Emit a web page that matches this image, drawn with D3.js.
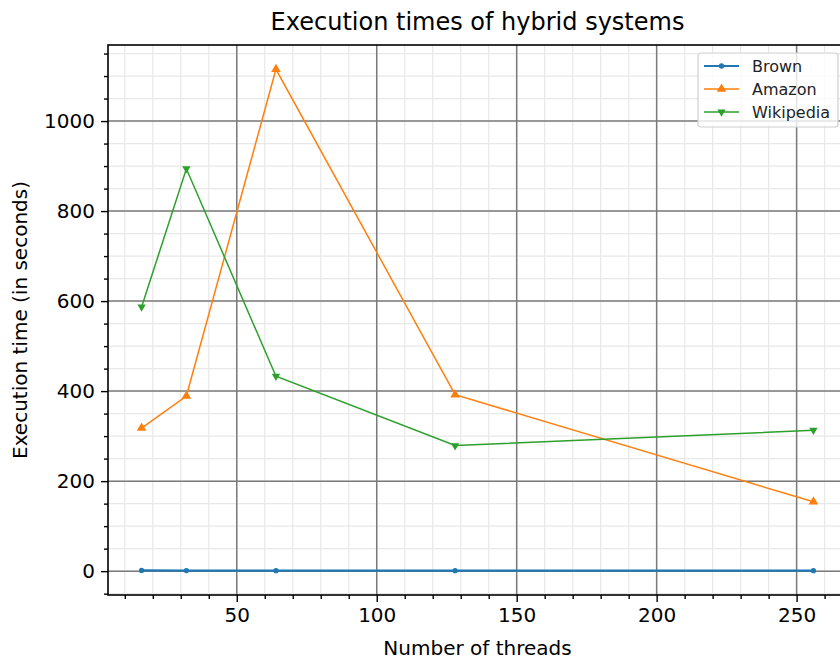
<!DOCTYPE html>
<html>
<head>
<meta charset="utf-8">
<script src="https://cdn.jsdelivr.net/npm/d3@7"></script>
<style>
  body { margin: 0; background: #fff; }
  svg { display: block; font-family: "DejaVu Sans", sans-serif; }
</style>
</head>
<body>
<svg id="chart" width="840" height="660"></svg>
<script>
// data
const threads = [16, 32, 64, 128, 256];
const brown = [1.5, 1.2, 1.0, 1.0, 1.1];
const amazon = [318, 389, 1115, 392, 154];
const wikipedia = [587, 894, 433, 279, 313];
const seriesNames = ["Brown", "Amazon", "Wikipedia"];
const xTicks = [50, 100, 150, 200, 250];
const yTicks = [0, 200, 400, 600, 800, 1000];

const colors = ["#1f77b4", "#ff7f0e", "#2ca02c"];
const series = [brown, amazon, wikipedia];

const margin = { left: 108, top: 45, right: 847, bottom: 595 };
const svg = d3.select("#chart");

const x = d3.scaleLinear().domain([4, 268]).range([margin.left, margin.right]);
const y = d3.scaleLinear().domain([-53, 1169]).range([margin.bottom, margin.top]);

// minor grid first
const xMinor = d3.range(10, 268, 10);
const yMinor = d3.range(-50, 1169, 50);

const grid = svg.append("g");
grid.selectAll(".xminor").data(xMinor).enter().append("line")
    .attr("x1", d => x(d)).attr("x2", d => x(d))
    .attr("y1", margin.top).attr("y2", margin.bottom)
    .attr("stroke", "#e8e8e8").style("stroke-width", 1.2);
grid.selectAll(".yminor").data(yMinor).enter().append("line")
    .attr("x1", margin.left).attr("x2", margin.right)
    .attr("y1", d => y(d)).attr("y2", d => y(d))
    .attr("stroke", "#e8e8e8").style("stroke-width", 1.2);

// major grid
grid.selectAll(".xmajor").data(xTicks).enter().append("line")
    .attr("x1", d => x(d)).attr("x2", d => x(d))
    .attr("y1", margin.top).attr("y2", margin.bottom)
    .attr("stroke", "#7a7a7a").style("stroke-width", 1.5);
grid.selectAll(".ymajor").data(yTicks).enter().append("line")
    .attr("x1", margin.left).attr("x2", margin.right)
    .attr("y1", d => y(d)).attr("y2", d => y(d))
    .attr("stroke", "#7a7a7a").style("stroke-width", 1.5);

// lines and markers
const line = d3.line().x((d, i) => x(threads[i])).y(d => y(d));
const symbols = [
    d3.symbol().type(d3.symbolCircle).size(22),
    d3.symbol().type(d3.symbolTriangle).size(40),
    d3.symbol().type(d3.symbolTriangle).size(30)
];

series.forEach((vals, k) => {
    svg.append("path")
        .attr("d", line(vals))
        .attr("fill", "none")
        .attr("stroke", colors[k])
        .style("stroke-width", k === 0 ? 2.2 : 1.5);

    svg.selectAll(".m" + k).data(vals).enter().append("path")
        .attr("d", symbols[k])
        .attr("transform", (d, i) =>
            "translate(" + x(threads[i]) + "," + y(d) + ")" + (k === 2 ? " rotate(180)" : ""))
        .attr("fill", colors[k]);
});

// spines
svg.append("rect")
    .attr("x", margin.left).attr("y", margin.top)
    .attr("width", margin.right - margin.left)
    .attr("height", margin.bottom - margin.top)
    .attr("fill", "none").attr("stroke", "#000").style("stroke-width", 1.6);

// axes
const xAxis = svg.append("g").attr("transform", "translate(0," + margin.bottom + ")");
xAxis.call(d3.axisBottom(x).tickValues(xMinor.filter(d => d % 50 !== 0)).tickSize(4).tickFormat(""));
xAxis.append("g").call(d3.axisBottom(x).tickValues(xTicks).tickSize(7).tickPadding(6).tickFormat(d3.format("d")));

const yAxis = svg.append("g").attr("transform", "translate(" + margin.left + ",0)");
yAxis.call(d3.axisLeft(y).tickValues(yMinor.filter(d => d % 200 !== 0)).tickSize(4).tickFormat(""));
yAxis.append("g").call(d3.axisLeft(y).tickValues(yTicks).tickSize(7).tickPadding(6).tickFormat(d3.format("d")));

svg.selectAll(".domain").remove();
svg.selectAll(".tick line").attr("stroke", "#000").style("stroke-width", 1.4);
svg.selectAll(".tick text")
    .style("font-family", "DejaVu Sans, sans-serif")
    .style("font-size", "20px")
    .attr("fill", "#000");

// title and labels
svg.append("text")
    .attr("x", (margin.left + margin.right) / 2).attr("y", 30)
    .attr("text-anchor", "middle")
    .style("font-size", "24px")
    .text("Execution times of hybrid systems");

svg.append("text")
    .attr("x", (margin.left + margin.right) / 2).attr("y", 655)
    .attr("text-anchor", "middle")
    .style("font-size", "20px")
    .text("Number of threads");

svg.append("text")
    .attr("transform", "translate(27," + (margin.top + margin.bottom) / 2 + ") rotate(-90)")
    .attr("text-anchor", "middle")
    .style("font-size", "20px")
    .text("Execution time (in seconds)");

// legend
const legend = svg.append("g").attr("transform", "translate(698,53)");
legend.append("rect")
    .attr("width", 140).attr("height", 74).attr("rx", 3)
    .attr("fill", "#fff").attr("fill-opacity", 0.8)
    .attr("stroke", "#d0d0d0").style("stroke-width", 1.2);

seriesNames.forEach((name, k) => {
    const ly = 13 + k * 23;
    legend.append("line")
        .attr("x1", 6).attr("x2", 41).attr("y1", ly).attr("y2", ly)
        .attr("stroke", colors[k]).style("stroke-width", k === 0 ? 2.2 : 1.5);
    legend.append("path")
        .attr("d", symbols[k])
        .attr("transform", "translate(23.5," + ly + ")" + (k === 2 ? " rotate(180)" : ""))
        .attr("fill", colors[k]);
    legend.append("text")
        .attr("x", 54).attr("y", ly + 6)
        .style("font-size", "16px")
        .attr("fill", "#222")
        .text(name);
});
</script>
</body>
</html>
